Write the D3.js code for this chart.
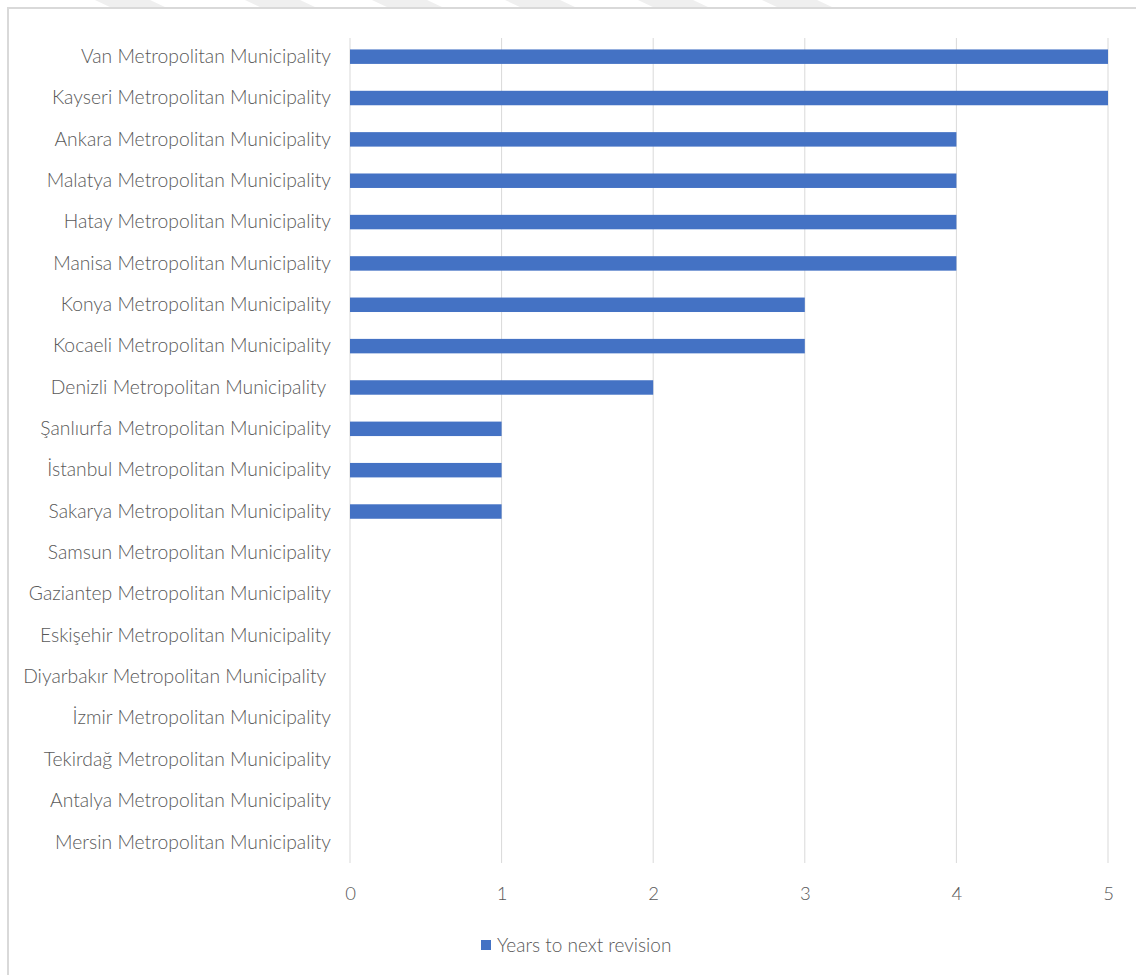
<!DOCTYPE html>
<html>
<head>
<meta charset="utf-8">
<script src="https://cdn.jsdelivr.net/npm/d3@7"></script>
<style>
  body { margin: 0; background: #fff; }
  svg text { font-family: Lato, "Open Sans", sans-serif; font-weight: 300; fill: #595959; }
</style>
</head>
<body>
<div id="chart"></div>
<script>
// Municipalities, top to bottom as drawn
var municipalities = [
  "Van Metropolitan Municipality",
  "Kayseri Metropolitan Municipality",
  "Ankara Metropolitan Municipality",
  "Malatya Metropolitan Municipality",
  "Hatay Metropolitan Municipality",
  "Manisa Metropolitan Municipality",
  "Konya Metropolitan Municipality",
  "Kocaeli Metropolitan Municipality",
  "Denizli Metropolitan Municipality ",
  "Şanlıurfa Metropolitan Municipality",
  "İstanbul Metropolitan Municipality",
  "Sakarya Metropolitan Municipality",
  "Samsun Metropolitan Municipality",
  "Gaziantep Metropolitan Municipality",
  "Eskişehir Metropolitan Municipality",
  "Diyarbakır Metropolitan Municipality ",
  "İzmir Metropolitan Municipality",
  "Tekirdağ Metropolitan Municipality",
  "Antalya Metropolitan Municipality",
  "Mersin Metropolitan Municipality"
];

// Years to next revision
var years = [5, 5, 4, 4, 4, 4, 3, 3, 2, 1, 1, 1, 0, 0, 0, 0, 0, 0, 0, 0];

var xTicks = [0, 1, 2, 3, 4, 5];
var seriesName = "Years to next revision";

function init() {
  var w = 1136, h = 975;
  var svg = d3.select("#chart").append("svg").attr("width", w).attr("height", h);

  // faint watermark stripes along the top edge
  var stripes = [95, 245, 372, 505, 638, 762];
  svg.selectAll("path.wm")
    .data(stripes)
    .enter()
    .append("path")
    .attr("class", "wm")
    .attr("d", (d) => `M${d},0 L${d + 55},0 L${d + 72},8 L${d + 17},8 Z`)
    .attr("fill", "#efefef");

  // chart frame (runs off the right and bottom edge)
  svg.append("rect")
    .attr("x", 8).attr("y", 8)
    .attr("width", w + 10).attr("height", h + 10)
    .attr("fill", "none")
    .attr("stroke", "#d9d9d9")
    .attr("stroke-width", 2);

  var x = d3.scaleLinear().domain([0, 5]).range([350, 1108]);
  var y = d3.scaleBand().domain(municipalities).range([36, 863]).paddingInner(0.65).paddingOuter(0.325);

  // vertical gridlines
  svg.selectAll("line.grid")
    .data(xTicks)
    .enter()
    .append("line")
    .attr("class", "grid")
    .attr("x1", (d) => x(d)).attr("x2", (d) => x(d))
    .attr("y1", 38).attr("y2", 863)
    .attr("stroke", "#d9d9d9")
    .attr("stroke-width", 1);

  // bars
  svg.selectAll("rect.bar")
    .data(years)
    .enter()
    .append("rect")
    .attr("class", "bar")
    .attr("x", x(0))
    .attr("y", (d, i) => y(municipalities[i]))
    .attr("width", (d) => x(d) - x(0))
    .attr("height", y.bandwidth())
    .attr("fill", "#4472c4");

  // category labels
  var yAxis = svg.append("g")
    .attr("transform", "translate(350,0)")
    .call(d3.axisLeft(y).tickSize(0).tickPadding(19));
  yAxis.select(".domain").remove();
  yAxis.selectAll("text")
    .style("font-size", "19.3px")
    .style("white-space", "pre")
    .attr("fill", "#595959");

  // value axis labels
  var xAxis = svg.append("g")
    .attr("transform", "translate(0,857)")
    .call(d3.axisBottom(x).tickValues(xTicks).tickFormat(d3.format("d")).tickSize(0).tickPadding(30));
  xAxis.select(".domain").remove();
  xAxis.selectAll("text")
    .style("font-size", "18.5px")
    .attr("fill", "#595959");

  // legend
  var legend = svg.append("g").attr("transform", "translate(481,940)");
  legend.append("rect").attr("width", 10).attr("height", 10).attr("fill", "#4472c4");
  legend.append("text")
    .attr("x", 16).attr("y", 5)
    .attr("dy", "0.35em")
    .style("font-size", "19px")
    .text(seriesName);
}

window.onload = init;
</script>
</body>
</html>
